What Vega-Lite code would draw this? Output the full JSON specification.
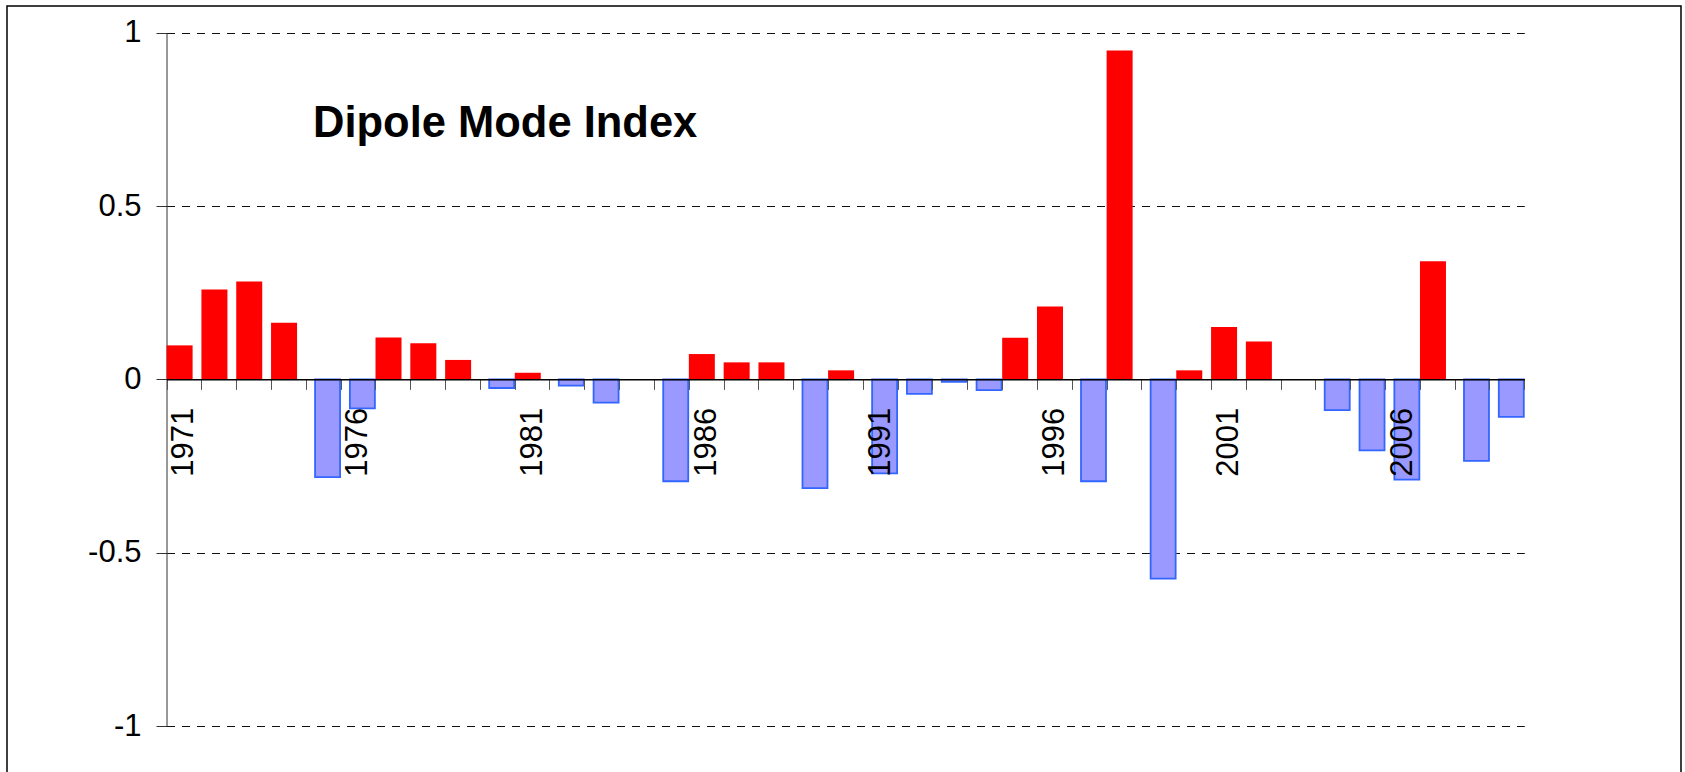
{
  "$schema": "https://vega.github.io/schema/vega-lite/v6.json",
  "width": 1674,
  "height": 775,
  "autosize": {"type": "none"},
  "padding": {"left": 7, "top": 6, "right": 4, "bottom": 0},
  "background": "white",
  "config": {
    "view": {"stroke": "#000000", "strokeWidth": 1.5},
    "font": "Liberation Sans"
  },
  "title": {
    "text": "Dipole Mode Index",
    "anchor": "start",
    "frame": "group",
    "orient": "top",
    "offset": 0,
    "dx": 306,
    "dy": 174.5,
    "baseline": "alphabetic",
    "font": "Liberation Sans",
    "fontSize": 43.5,
    "fontWeight": "bold",
    "color": "#000000"
  },
  "data": {
    "values": [
      {"year": 1971, "dmi": 0.098},
      {"year": 1972, "dmi": 0.259},
      {"year": 1973, "dmi": 0.282},
      {"year": 1974, "dmi": 0.163},
      {"year": 1975, "dmi": -0.282},
      {"year": 1976, "dmi": -0.084},
      {"year": 1977, "dmi": 0.121},
      {"year": 1978, "dmi": 0.104},
      {"year": 1979, "dmi": 0.056},
      {"year": 1980, "dmi": -0.025},
      {"year": 1981, "dmi": 0.019},
      {"year": 1982, "dmi": -0.018},
      {"year": 1983, "dmi": -0.067},
      {"year": 1984, "dmi": null},
      {"year": 1985, "dmi": -0.294},
      {"year": 1986, "dmi": 0.073},
      {"year": 1987, "dmi": 0.049},
      {"year": 1988, "dmi": 0.049},
      {"year": 1989, "dmi": -0.314},
      {"year": 1990, "dmi": 0.026},
      {"year": 1991, "dmi": -0.271},
      {"year": 1992, "dmi": -0.042},
      {"year": 1993, "dmi": -0.007},
      {"year": 1994, "dmi": -0.031},
      {"year": 1995, "dmi": 0.120},
      {"year": 1996, "dmi": 0.210},
      {"year": 1997, "dmi": -0.294},
      {"year": 1998, "dmi": 0.949},
      {"year": 1999, "dmi": -0.575},
      {"year": 2000, "dmi": 0.026},
      {"year": 2001, "dmi": 0.151},
      {"year": 2002, "dmi": 0.109},
      {"year": 2003, "dmi": null},
      {"year": 2004, "dmi": -0.089},
      {"year": 2005, "dmi": -0.205},
      {"year": 2006, "dmi": -0.289},
      {"year": 2007, "dmi": 0.341},
      {"year": 2008, "dmi": -0.235},
      {"year": 2009, "dmi": -0.108}
    ]
  },
  "encoding": {
    "x": {
      "field": "year",
      "type": "ordinal",
      "scale": {
        "domain": [1971,1972,1973,1974,1975,1976,1977,1978,1979,1980,1981,1982,1983,1984,1985,1986,1987,1988,1989,1990,1991,1992,1993,1994,1995,1996,1997,1998,1999,2000,2001,2002,2003,2004,2005,2006,2007,2008,2009],
        "range": [159.5, 1517.3],
        "paddingInner": 0,
        "paddingOuter": 0
      },
      "axis": {
        "orient": "bottom",
        "offset": -401.65,
        "title": null,
        "grid": false,
        "zindex": 1,
        "tickBand": "extent",
        "tickSize": 10,
        "tickColor": "#555555",
        "tickWidth": 1,
        "domainColor": "#000000",
        "domainWidth": 1.5,
        "labelAngle": -90,
        "labelAlign": "right",
        "labelBaseline": "middle",
        "labelExpr": "datum.value % 5 == 1 ? datum.value : ''",
        "labelOverlap": false,
        "labelFont": "Liberation Sans",
        "labelFontSize": 31,
        "labelColor": "#000000",
        "labelPadding": 18
      }
    },
    "y": {
      "field": "dmi",
      "type": "quantitative",
      "scale": {"domain": [-1, 1], "range": [720, 26.7]},
      "axis": {
        "orient": "left",
        "offset": -159.5,
        "title": null,
        "values": [-1, -0.5, 0, 0.5, 1],
        "labelExpr": "(datum.value < 0 ? '-' : '') + abs(datum.value)",
        "tickSize": 10.5,
        "tickColor": "#333333",
        "domainColor": "#333333",
        "domainWidth": 1,
        "labelFont": "Liberation Sans",
        "labelFontSize": 31,
        "labelColor": "#000000",
        "labelPadding": 15,
        "grid": true,
        "gridDash": [8, 7],
        "gridColor": "#111111",
        "gridWidth": 1
      }
    }
  },
  "layer": [
    {
      "transform": [{"filter": "datum.dmi > 0"}],
      "mark": {"type": "bar", "width": 26, "xOffset": -4.3, "fill": "#FF0000"}
    },
    {
      "transform": [{"filter": "datum.dmi < 0"}],
      "mark": {"type": "bar", "width": 25, "xOffset": 4.4, "fill": "#9999FF", "stroke": "#3366FF", "strokeWidth": 1.8}
    }
  ]
}
